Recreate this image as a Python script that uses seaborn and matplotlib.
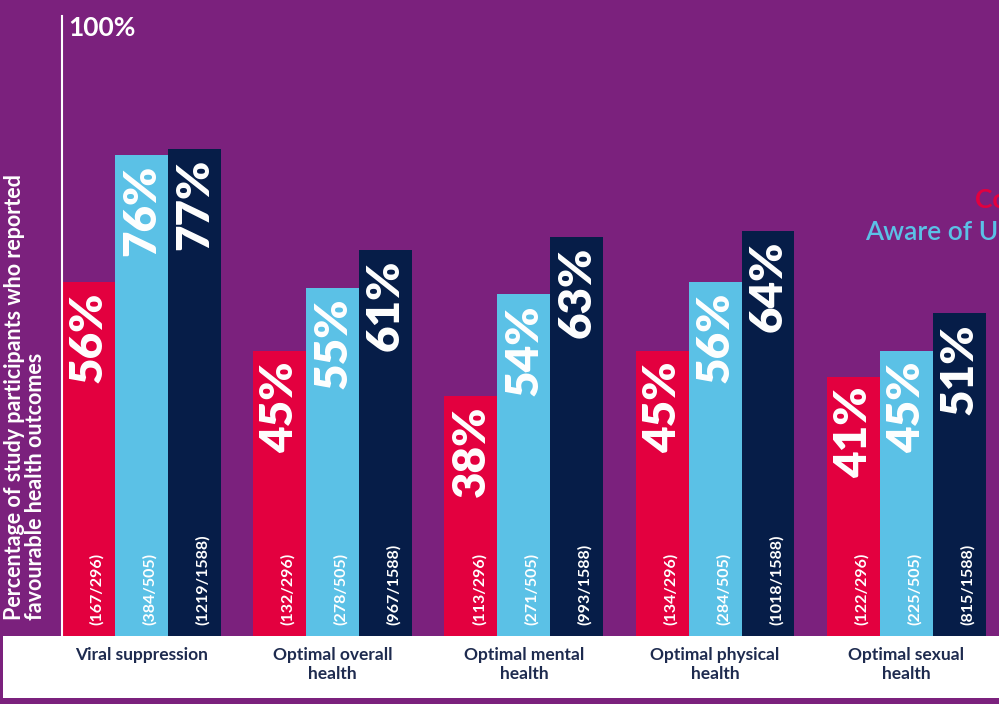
import matplotlib
matplotlib.use('Agg')
import matplotlib.pyplot as plt
import seaborn as sns
import pandas as pd
from matplotlib.patches import Rectangle

outcomes = ['Viral suppression', 'Optimal overall\nhealth', 'Optimal mental\nhealth',
            'Optimal physical\nhealth', 'Optimal sexual\nhealth']
groups = ['Confident in U=U', 'Aware of U=U', 'Believe U=U']

red_pct = [56, 45, 38, 45, 41]
blue_pct = [76, 55, 54, 56, 45]
navy_pct = [77, 61, 63, 64, 51]

red_counts = ['(167/296)', '(132/296)', '(113/296)', '(134/296)', '(122/296)']
blue_counts = ['(384/505)', '(278/505)', '(271/505)', '(284/505)', '(225/505)']
navy_counts = ['(1219/1588)', '(967/1588)', '(993/1588)', '(1018/1588)', '(815/1588)']

PURPLE = '#7B217D'
RED = '#E3003F'
BLUE = '#5BC1E6'
NAVY = '#061D48'
LABEL_NAVY = '#1E2B4F'


def main():

    df = {'outcome': [], 'pct': [], 'group': []}
    for grp, vals in zip(groups, [red_pct, blue_pct, navy_pct]):
        for out, v in zip(outcomes, vals):
            df['outcome'].append(out)
            df['pct'].append(v)
            df['group'].append(grp)
    df = pd.DataFrame(df)

    plt.rcParams['font.family'] = ['Lato', 'DejaVu Sans']

    fig = plt.figure(figsize=(9.99, 7.04), dpi=100, facecolor=PURPLE)
    W, H = 999, 704

    # white band behind the category labels
    fig.add_artist(Rectangle((3 / W, (H - 698) / H), 1, (698 - 636) / H,
                             transform=fig.transFigure, facecolor='white',
                             edgecolor='none', zorder=0))

    ax = fig.add_axes([62 / W, (H - 636) / H, (W - 62) / W, (636 - 16) / H])
    ax.set_facecolor('none')

    pal = [RED, BLUE, NAVY]
    sns.barplot(data=df, x='outcome', y='pct', hue='group', hue_order=groups,
                order=outcomes, palette=pal, saturation=1, width=0.83, gap=0,
                linewidth=0, legend=False, ax=ax)

    ax.set_xlim(-0.415, -0.415 + (W - 62) / 191.25)
    ax.set_ylim(0, 98)
    ax.set_yticks([])
    ax.set_xlabel('')
    ax.set_ylabel('')
    ax.tick_params(axis='x', length=0, pad=8)
    ax.set_xticks(range(len(outcomes)))
    ax.set_xticklabels(outcomes, fontsize=12.5, fontweight='bold', color=LABEL_NAVY,
                       linespacing=1.2)
    for s in ['top', 'right', 'bottom']:
        ax.spines[s].set_visible(False)
    ax.spines['left'].set_color('white')
    ax.spines['left'].set_linewidth(1.5)

    counts = [red_counts, blue_counts, navy_counts]
    for ci, cont in enumerate(ax.containers):
        for bi, bar in enumerate(cont):
            cx = bar.get_x() + bar.get_width() / 2
            h = bar.get_height()
            ax.annotate(f'{int(h)}%', xy=(cx, h), xytext=(0, -7), textcoords='offset points',
                        rotation=90, ha='center', va='top', color='white',
                        fontsize=33, fontweight='heavy')
            ax.annotate(counts[ci][bi], xy=(cx, 0), xytext=(6, 8), textcoords='offset points',
                        rotation=90, ha='center', va='bottom', color='white',
                        fontsize=11.5, fontweight='bold')

    fig.text(68 / W, (H - 28) / H, '100%', color='white', fontsize=19,
             fontweight='bold', ha='left', va='center')

    fig.text(25 / W, (H - 397) / H,
             'Percentage of study participants who reported\nfavourable health outcomes',
             rotation=90, color='white', fontsize=15.5, fontweight='bold',
             ha='center', va='center', multialignment='left', linespacing=0.95)

    # legend, cut off by the right edge of the picture as in the original
    fig.text(975 / W, (H - 200) / H, groups[0], color=RED, fontsize=19,
             fontweight='bold', ha='left', va='center')
    fig.text(865 / W, (H - 232) / H, groups[1], color=BLUE, fontsize=19,
             fontweight='semibold', ha='left', va='center')

    fig.savefig('out.png', dpi=100, facecolor=PURPLE)
    plt.close(fig)


if __name__ == '__main__':
    main()
